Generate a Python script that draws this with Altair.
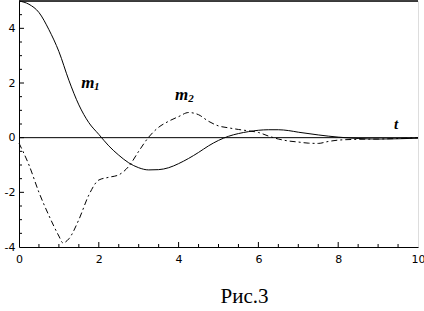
import altair as alt
import pandas as pd

# --- data ---
t_m1 = [0, 0.25, 0.5, 0.75, 1.0, 1.25, 1.5, 1.75, 2.0, 2.25, 2.5, 2.75, 3.0, 3.25, 3.5,
        3.75, 4.0, 4.25, 4.5, 4.75, 5.0, 5.25, 5.5, 5.75, 6.0, 6.25, 6.5, 6.75, 7.0,
        7.5, 8.0, 8.5, 9.0, 9.5, 10.0]
m1 = [5.0, 4.88, 4.58, 3.95, 3.15, 2.1, 1.2, 0.55, 0.12, -0.3, -0.64, -0.92, -1.1, -1.18, -1.17,
      -1.1, -0.95, -0.76, -0.54, -0.3, -0.1, 0.05, 0.15, 0.22, 0.27, 0.29, 0.29, 0.26, 0.2,
      0.1, 0.02, -0.03, -0.05, -0.04, -0.02]

t_m2 = [0, 0.25, 0.5, 0.75, 1.0, 1.1, 1.25, 1.5, 1.75, 2.0, 2.25, 2.5, 2.75, 3.0, 3.25,
        3.5, 3.75, 4.0, 4.25, 4.5, 4.75, 5.0, 5.25, 5.5, 5.75, 6.0, 6.25, 6.5, 6.75,
        7.0, 7.25, 7.5, 7.75, 8.0, 8.5, 9.0, 9.5, 10.0]
m2 = [-0.2, -1.0, -2.0, -2.85, -3.6, -3.85, -3.7, -3.0, -2.1, -1.55, -1.45, -1.36, -1.05, -0.5, 0.02,
      0.38, 0.6, 0.77, 0.92, 0.84, 0.6, 0.43, 0.36, 0.3, 0.25, 0.19, 0.06, -0.05, -0.12,
      -0.16, -0.2, -0.21, -0.14, -0.09, -0.06, -0.05, -0.03, 0.0]

x_labels = [0, 2, 4, 6, 8, 10]
y_labels = [-4, -2, 0, 2, 4]
x_major = [2, 4, 6, 8]
x_minor = [0.5, 1, 1.5, 2.5, 3, 3.5, 4.5, 5, 5.5, 6.5, 7, 7.5, 8.5, 9, 9.5]
y_major = [-2, 0, 2, 4]
y_minor = [-3.5, -3, -2.5, -1.5, -1, -0.5, 0.5, 1, 1.5, 2.5, 3, 3.5, 4.5]

lab_text = ["m", "1", "m", "2", "t"]
lab_t = [1.56, 1.88, 3.91, 4.24, 9.4]
lab_y = [1.80, 1.73, 1.38, 1.31, 0.32]
lab_size = [17, 11, 17, 11, 15]

W, H = 399, 246

xs = alt.Scale(domain=[0, 10], nice=False, zero=False)
ys = alt.Scale(domain=[-4, 5], nice=False, zero=False)

d1 = pd.DataFrame({"t": t_m1, "v": m1})
d2 = pd.DataFrame({"t": t_m2, "v": m2})
dl = pd.DataFrame({"t": lab_t, "v": lab_y, "txt": lab_text, "s": lab_size})

xaxis = alt.Axis(values=x_labels, tickSize=0, labelPadding=6, labelFont="DejaVu Sans",
                 labelFontSize=11, labelColor="black", domainColor="black", grid=False,
                 title=None, format="d", labelFlush=False)
yaxis = alt.Axis(values=y_labels, tickSize=0, labelPadding=4, labelFont="DejaVu Sans",
                 labelFontSize=11, labelColor="black", domainColor="black", grid=False,
                 title=None, labelExpr="datum.value < 0 ? '-' + abs(datum.value) : '' + datum.value")

base_axes = alt.Chart(d1).mark_line(opacity=0).encode(
    x=alt.X("t:Q", scale=xs, axis=xaxis),
    y=alt.Y("v:Q", scale=ys, axis=yaxis),
)

line1 = alt.Chart(d1).mark_line(color="black", strokeWidth=1, interpolate="monotone").encode(
    x=alt.X("t:Q", scale=xs), y=alt.Y("v:Q", scale=ys))
line2 = alt.Chart(d2).mark_line(color="black", strokeWidth=1, interpolate="monotone",
                                strokeDash=[6, 3, 2, 3]).encode(
    x=alt.X("t:Q", scale=xs), y=alt.Y("v:Q", scale=ys))

zero_rule = alt.Chart(pd.DataFrame({"a": [0]})).mark_rule(color="black", strokeWidth=1).encode(
    y=alt.Y("a:Q", scale=ys), x=alt.datum(0, scale=xs), x2=alt.datum(10))
top_rule = alt.Chart(pd.DataFrame({"a": [5]})).mark_rule(color="black", strokeWidth=1.5).encode(
    y=alt.Y("a:Q", scale=ys), x=alt.datum(0, scale=xs), x2=alt.datum(10))

xmaj = alt.Chart(pd.DataFrame({"p": x_major})).mark_rule(color="black").encode(
    x=alt.X("p:Q", scale=xs), y=alt.value(H), y2=alt.value(H - 5))
xmin = alt.Chart(pd.DataFrame({"p": x_minor})).mark_rule(color="black").encode(
    x=alt.X("p:Q", scale=xs), y=alt.value(H), y2=alt.value(H - 3))
ymaj = alt.Chart(pd.DataFrame({"p": y_major})).mark_rule(color="black").encode(
    y=alt.Y("p:Q", scale=ys), x=alt.value(0), x2=alt.value(5))
ymin = alt.Chart(pd.DataFrame({"p": y_minor})).mark_rule(color="black").encode(
    y=alt.Y("p:Q", scale=ys), x=alt.value(0), x2=alt.value(3))

labels = alt.Chart(dl).mark_text(align="left", baseline="alphabetic", font="Liberation Serif",
                                 fontStyle="italic", fontWeight="bold", color="black").encode(
    x=alt.X("t:Q", scale=xs), y=alt.Y("v:Q", scale=ys), text="txt:N",
    size=alt.Size("s:Q", scale=None, legend=None))

chart = alt.layer(base_axes, zero_rule, top_rule, xmaj, xmin, ymaj, ymin, line1, line2, labels).properties(
    width=W, height=H,
    title=alt.TitleParams(text="Рис.3", orient="bottom", anchor="middle", font="Liberation Serif",
                          fontSize=21, fontWeight="normal", color="black", dx=26, offset=22),
    autosize=alt.AutoSizeParams(type="none"),
    padding={"left": 19, "top": 1, "right": 6, "bottom": 64},
).configure_view(stroke=None).configure(background="white")

chart.save("out.html", embed_options={"renderer": "svg", "actions": False})
